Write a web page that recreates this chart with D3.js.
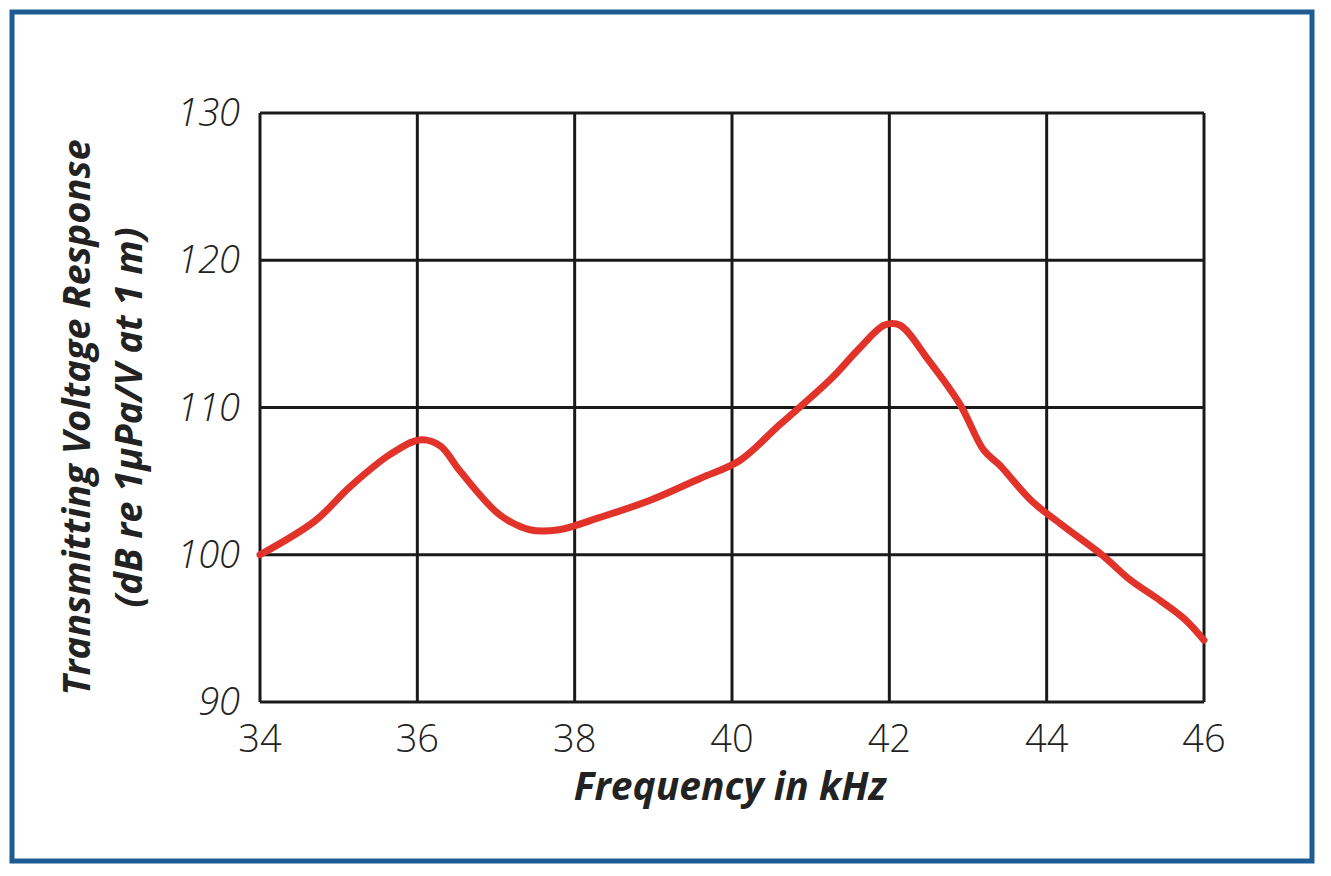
<!DOCTYPE html>
<html><head><meta charset="utf-8">
<script src="https://cdn.jsdelivr.net/npm/d3@7"></script>
<style>body{margin:0;background:#fff}</style>
</head><body>
<svg id="chart" width="1331" height="876"></svg>
<script>
const xTicks = [34, 36, 38, 40, 42, 44, 46]
const yTicks = [90, 100, 110, 120, 130]
const freq = [34, 34.7, 35.14, 35.65, 36.03, 36.29, 36.54, 37.05, 37.43, 37.8, 38.3, 38.96, 39.6, 40.1, 40.6, 41.25, 41.6, 41.94, 42.13, 42.5, 42.9, 43.2, 43.4, 43.8, 44.2, 44.7, 45.06, 45.44, 45.76, 46]
const tvr = [100, 102.3, 104.6, 106.8, 107.8, 107.4, 105.7, 102.7, 101.7, 101.7, 102.5, 103.7, 105.2, 106.4, 108.8, 111.9, 113.9, 115.6, 115.6, 113.2, 110.2, 107.1, 106.1, 103.7, 102.0, 100, 98.3, 96.9, 95.6, 94.2]

const svg = d3.select('#chart')
const plotLeft = 260, plotRight = 1204, plotTop = 113, plotBottom = 702

svg.append('rect')
    .attr('x', 12).attr('y', 12).attr('width', 1300).attr('height', 849)
    .attr('fill', 'none').attr('stroke', '#1d5b92').attr('stroke-width', 5)

const x = d3.scaleLinear().domain([34, 46]).range([plotLeft, plotRight])
const y = d3.scaleLinear().domain([90, 130]).range([plotBottom, plotTop])

const grid = svg.append('g').attr('stroke', '#1a1a1a').attr('stroke-width', 3)
grid.selectAll('.vx').data(xTicks).enter().append('line')
    .attr('x1', d => x(d)).attr('x2', d => x(d)).attr('y1', plotTop).attr('y2', plotBottom)
grid.selectAll('.hy').data(yTicks).enter().append('line')
    .attr('y1', d => y(d)).attr('y2', d => y(d)).attr('x1', plotLeft).attr('x2', plotRight)

const font = "'Open Sans', 'DejaVu Sans', sans-serif"

svg.append('g').selectAll('text').data(xTicks).enter().append('text')
    .attr('x', d => x(d)).attr('y', plotBottom + 50)
    .attr('text-anchor', 'middle').attr('font-family', font)
    .attr('font-size', 38).attr('font-weight', 300).attr('fill', '#222')
    .text(d => d)

svg.append('g').selectAll('text').data(yTicks).enter().append('text')
    .attr('x', plotLeft - 20).attr('y', d => y(d) + 13)
    .attr('text-anchor', 'end').attr('font-family', font)
    .attr('font-size', 38).attr('font-weight', 300).attr('font-style', 'italic').attr('fill', '#222')
    .text(d => d)

const line = d3.line()
    .x((d, i) => x(freq[i]))
    .y(d => y(d))
    .curve(d3.curveCatmullRom)

svg.append('path')
    .datum(tvr)
    .attr('d', line)
    .attr('fill', 'none').attr('stroke', '#e2332b').attr('stroke-width', 7)
    .attr('stroke-linecap', 'round')

svg.append('text')
    .attr('x', (plotLeft + plotRight) / 2 - 2).attr('y', 800)
    .attr('text-anchor', 'middle').attr('font-family', font)
    .attr('font-size', 39).attr('font-weight', 700).attr('font-style', 'italic').attr('fill', '#222')
    .text('Frequency in kHz')

const yt = svg.append('text')
    .attr('transform', `translate(90, ${(plotTop + plotBottom) / 2 + 10}) rotate(-90)`)
    .attr('text-anchor', 'middle').attr('font-family', font)
    .attr('font-size', 38).attr('font-weight', 700).attr('font-style', 'italic').attr('fill', '#222')
yt.append('tspan').attr('x', 0).attr('dy', 0).text('Transmitting Voltage Response')
yt.append('tspan').attr('x', 0).attr('dy', 52).text('(dB re 1μPa/V at 1 m)')
</script>
</body></html>
